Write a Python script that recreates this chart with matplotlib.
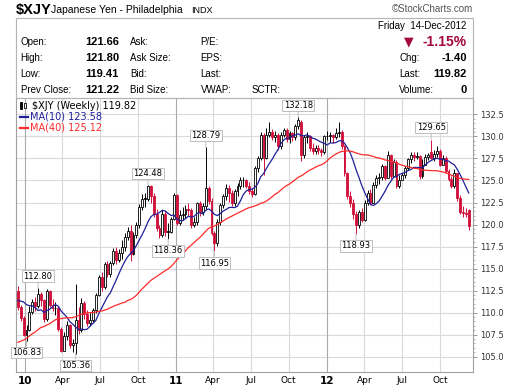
import matplotlib
matplotlib.use("Agg")
import matplotlib.pyplot as plt
from matplotlib.patches import Rectangle
import pandas as pd

W, H = 512, 389

# weekly closes before the first visible bar, only used to seed the moving averages
warmup_closes = [104.7, 102.1, 100.0, 99.7, 100.8, 103.0, 101.1, 101.7, 105.3, 105.5,
                 104.9, 101.4, 101.6, 103.8, 105.0, 104.2, 107.9, 106.3, 105.6, 105.2,
                 102.5, 105.4, 105.9, 106.8, 107.5, 110.3, 109.2, 111.5, 111.4, 111.4,
                 110.0, 108.6, 111.0, 111.2, 111.5, 112.5, 115.5, 110.6, 112.2]

# weekly bars, week of 14-Dec-2009 to week of 10-Dec-2012
opens = [112.5, 110.6, 109.4, 107.5, 108.0, 110.1, 111.2, 110.7, 112.1, 111.4,
         109.3, 112.5, 110.9, 110.5, 110.5, 108.1, 105.7, 107.3, 108.6, 106.3,
         106.5, 109.2, 108.0, 111.1, 109.8, 108.8, 109.2, 110.3, 112.0, 114.0,
         112.9, 115.5, 114.4, 115.6, 117.0, 116.0, 116.8, 117.4, 118.6, 119.3,
         116.6, 118.8, 120.0, 122.0, 122.9, 122.9, 124.4, 123.2, 121.2, 119.6,
         118.8, 121.2, 119.2, 119.2, 120.6, 123.3, 120.2, 121.1, 121.2, 121.8,
         121.7, 120.0, 120.3, 122.4, 121.4, 122.1, 124.1, 122.7, 119.0, 117.9,
         120.3, 122.2, 123.2, 124.1, 123.6, 122.4, 123.8, 124.4, 125.0, 125.0,
         124.4, 123.8, 123.5, 126.4, 127.6, 130.2, 127.6, 130.2, 130.5, 129.9,
         130.2, 128.9, 130.2, 130.7, 129.7, 130.4, 129.9, 131.2, 131.6, 127.9,
         129.9, 130.0, 128.7, 128.4, 128.7, 128.5, 128.2, 130.0, 130.0, 130.2,
         129.9, 130.4, 130.5, 128.9, 125.8, 123.2, 122.4, 121.2, 119.9, 121.4,
         120.5, 122.5, 123.6, 122.4, 124.5, 125.3, 125.4, 126.6, 125.3, 127.9,
         125.5, 127.1, 124.4, 125.0, 125.6, 126.4, 127.4, 127.9, 127.7, 127.8,
         125.5, 126.8, 127.7, 128.2, 127.6, 128.0, 128.4, 126.8, 127.6, 126.1,
         125.2, 124.4, 125.8, 123.0, 121.4, 121.3, 121.66]
highs = [113.0, 110.9, 109.6, 108.6, 110.8, 111.6, 111.8, 112.80, 112.3, 111.6,
         112.7, 112.6, 111.6, 111.2, 110.8, 108.4, 107.8, 109.0, 108.7, 107.0,
         113.3, 110.6, 111.7, 111.3, 110.3, 110.0, 110.5, 112.2, 114.3, 114.6,
         115.8, 115.9, 115.9, 117.3, 117.4, 117.2, 118.3, 119.0, 119.7, 119.9,
         119.1, 120.3, 122.3, 123.5, 123.6, 124.48, 124.5, 123.6, 121.8, 120.0,
         121.6, 121.5, 120.2, 120.9, 123.6, 123.5, 121.7, 122.0, 122.2, 122.4,
         121.9, 120.8, 122.6, 122.7, 122.5, 128.79, 124.4, 123.0, 119.3, 120.6,
         122.4, 123.5, 124.6, 124.5, 123.9, 124.0, 124.7, 125.4, 125.4, 125.2,
         124.8, 124.2, 126.7, 127.8, 130.5, 130.4, 131.0, 131.6, 130.9, 130.6,
         130.4, 130.5, 131.0, 131.0, 130.6, 130.5, 131.4, 132.18, 131.9, 130.2,
         130.5, 130.2, 129.2, 129.0, 129.0, 128.7, 130.2, 130.6, 130.5, 130.3,
         131.0, 131.6, 130.7, 129.0, 126.0, 123.8, 122.9, 121.5, 121.7, 121.9,
         122.8, 123.9, 124.0, 124.8, 125.6, 125.8, 126.9, 126.8, 128.4, 128.0,
         127.4, 127.3, 125.6, 125.9, 126.6, 127.6, 128.2, 128.2, 128.2, 127.9,
         127.4, 128.0, 128.1, 129.65, 128.5, 128.9, 128.6, 127.9, 127.8, 126.3,
         125.5, 126.3, 125.9, 123.4, 122.1, 121.9, 121.80]
lows = [110.3, 109.0, 107.3, 106.83, 107.9, 109.9, 110.2, 110.5, 110.8, 108.9,
        109.0, 110.6, 110.2, 109.7, 107.9, 105.5, 105.6, 106.9, 106.0, 105.5,
        105.36, 107.6, 107.8, 109.3, 108.5, 108.5, 108.9, 110.0, 111.9, 112.5,
        112.7, 114.0, 114.0, 115.4, 115.5, 115.7, 116.1, 117.0, 118.2, 115.9,
        116.5, 118.5, 119.6, 121.6, 122.0, 122.7, 122.5, 120.8, 119.3, 118.5,
        118.6, 118.7, 118.36, 119.0, 120.5, 119.9, 119.9, 120.5, 120.7, 121.0,
        119.6, 119.7, 120.0, 121.0, 121.1, 121.8, 122.3, 118.8, 116.95, 117.6,
        120.0, 121.9, 122.8, 122.6, 122.1, 122.1, 123.2, 124.0, 124.3, 124.1,
        123.5, 123.1, 123.3, 126.0, 127.3, 125.6, 127.4, 129.9, 129.6, 129.4,
        128.5, 128.6, 129.9, 129.4, 129.3, 129.5, 129.6, 130.9, 127.2, 127.6,
        129.3, 128.3, 128.0, 128.0, 128.0, 127.8, 128.0, 129.6, 129.4, 129.3,
        129.7, 129.9, 128.6, 125.5, 122.9, 122.0, 120.6, 118.93, 119.6, 120.3,
        120.4, 122.2, 122.2, 122.5, 124.1, 124.6, 125.0, 125.1, 125.4, 125.2,
        125.6, 124.2, 124.2, 125.0, 125.3, 126.2, 127.0, 127.2, 127.4, 125.2,
        125.3, 126.9, 127.3, 127.4, 127.2, 127.7, 126.6, 126.8, 125.9, 124.9,
        124.2, 124.1, 122.7, 121.2, 120.9, 120.8, 119.41]
closes = [110.6, 109.4, 107.5, 108.0, 110.1, 111.2, 110.7, 112.1, 111.4, 109.3,
          112.5, 110.9, 110.5, 110.5, 108.1, 105.7, 107.3, 108.6, 106.3, 106.5,
          109.2, 108.0, 111.1, 109.8, 108.8, 109.2, 110.3, 112.0, 114.0, 112.9,
          115.5, 114.4, 115.6, 117.0, 116.0, 116.8, 117.4, 118.6, 119.3, 116.6,
          118.8, 120.0, 122.0, 122.9, 122.9, 124.4, 123.2, 121.2, 119.6, 118.8,
          121.2, 119.2, 119.2, 120.6, 123.3, 120.2, 121.1, 121.2, 121.8, 121.7,
          120.0, 120.3, 122.4, 121.4, 122.1, 124.1, 122.7, 119.0, 117.9, 120.3,
          122.2, 123.2, 124.1, 123.6, 122.4, 123.8, 124.4, 125.0, 125.0, 124.4,
          123.8, 123.5, 126.4, 127.6, 130.2, 127.6, 130.2, 130.5, 129.9, 130.2,
          128.9, 130.2, 130.7, 129.7, 130.4, 129.9, 131.2, 131.9, 127.9, 129.9,
          130.0, 128.7, 128.4, 128.7, 128.5, 128.2, 130.0, 130.0, 130.2, 129.9,
          130.4, 130.5, 128.9, 125.8, 123.2, 122.4, 121.2, 119.9, 121.4, 120.5,
          122.5, 123.6, 122.4, 124.5, 125.3, 125.4, 126.6, 125.3, 127.9, 125.5,
          127.1, 124.4, 125.0, 125.6, 126.4, 127.4, 127.9, 127.7, 127.8, 125.5,
          126.8, 127.7, 127.9, 127.6, 128.0, 128.4, 126.8, 127.6, 126.1, 125.2,
          124.4, 125.8, 123.0, 121.4, 121.3, 121.22, 119.82]

dates = pd.date_range("2009-12-14", periods=len(closes), freq="7D")

# bars that carry a price callout
callout_weeks = [3, 7, 20, 45, 52, 65, 68, 97, 117, 143]
callout_sides = ["low", "high", "low", "high", "low", "high", "low", "high", "low", "high"]

tick_dates = pd.to_datetime(["2010-01-01", "2010-04-01", "2010-07-01", "2010-10-01",
                             "2011-01-01", "2011-04-01", "2011-07-01", "2011-10-01",
                             "2012-01-01", "2012-04-01", "2012-07-01", "2012-10-01"])
tick_labels = ["10", "Apr", "Jul", "Oct", "11", "Apr", "Jul", "Oct", "12", "Apr", "Jul", "Oct"]
y_ticks = [105.0, 107.5, 110.0, 112.5, 115.0, 117.5, 120.0, 122.5, 125.0, 127.5, 130.0, 132.5]

all_closes = pd.Series(warmup_closes + closes)
ma10 = all_closes.rolling(10).mean().iloc[len(warmup_closes):].to_numpy()
ma40 = all_closes.rolling(40).mean().iloc[len(warmup_closes):].to_numpy()

RED = "#d0103a"
DARKRED = "#a3093a"
BLUE = "#1f1f9a"
MARED = "#ff2a2a"
GRID = "#dadada"

fig = plt.figure(figsize=(W / 100, H / 100), dpi=100)
fig.patch.set_facecolor("white")


def ftext(x, y, s, **kw):
    kw.setdefault("va", "center")
    kw.setdefault("family", "Liberation Sans")
    fig.text(x / W, 1 - y / H, s, **kw)


# title line
ftext(16, 10, "$XJY", fontsize=10.5, weight="bold")
ftext(51, 10, "Japanese Yen - Philadelphia", fontsize=7.5)
ftext(191, 10.5, "INDX", fontsize=6.5)
ftext(473, 9.5, "\u00a9StockCharts.com", fontsize=7, color="#555555", ha="right")

# quote panel
fig.patches.append(Rectangle((16 / W, 1 - 97.5 / H), 457 / W, 79.5 / H,
                             transform=fig.transFigure, fill=False,
                             edgecolor="#b4b4b4", lw=0.8))
prev_close = closes[-2]
chg = closes[-1] - prev_close
pct = chg / prev_close * 100
row_y = [42.3, 58.3, 74.3, 90.0]
left_labels = ["Open:", "High:", "Low:", "Prev Close:"]
left_values = [opens[-1], highs[-1], lows[-1], prev_close]
mid_labels = ["Ask:", "Ask Size:", "Bid:", "Bid Size:"]
third_labels = ["P/E:", "EPS:", "Last:", "VWAP:"]
for y, lab, val, m, t in zip(row_y, left_labels, left_values, mid_labels, third_labels):
    ftext(20.7, y, lab, fontsize=7)
    ftext(119, y, f"{val:.2f}", fontsize=8, weight="bold", ha="right")
    ftext(130, y, m, fontsize=7)
    ftext(200.7, y, t, fontsize=7)
ftext(251.7, row_y[3], "SCTR:", fontsize=7)
ftext(466.7, 26, "Friday  14-Dec-2012", fontsize=7, ha="right")
ftext(409, row_y[0], "\u25bc", fontsize=9, color=DARKRED, ha="center", family="DejaVu Sans")
ftext(466.7, row_y[0], f"{pct:.2f}%", fontsize=10, weight="bold", color=DARKRED, ha="right")
ftext(399.3, row_y[1], "Chg:", fontsize=7)
ftext(466.7, row_y[1], f"{chg:.2f}", fontsize=8, weight="bold", ha="right")
ftext(399.3, row_y[2], "Last:", fontsize=7)
ftext(466.7, row_y[2], f"{closes[-1]:.2f}", fontsize=8, weight="bold", ha="right")
ftext(399.3, row_y[3], "Volume:", fontsize=7)
ftext(466.7, row_y[3], "0", fontsize=8, weight="bold", ha="right")

# price panel
ax = fig.add_axes([16 / W, 1 - 372 / H, (472.7 - 16) / W, (372 - 97.5) / H])
ax.set_xlim(pd.Timestamp("2009-12-09 12:00"), pd.Timestamp("2012-12-19 14:00"))
ax.set_ylim(103.26, 134.42)

for yv in y_ticks:
    ax.axhline(yv, color=GRID, lw=0.8, zorder=0)
for d, lab in zip(tick_dates, tick_labels):
    ax.axvline(d, color="#aaaaaa" if lab.isdigit() else GRID, lw=0.8, zorder=0)

prev = [warmup_closes[-1]] + closes[:-1]
for d, o, h, l, c, p in zip(dates, opens, highs, lows, closes, prev):
    col = "black" if c >= p else RED
    ax.vlines(d, l, h, color=col, lw=0.7, zorder=2)
    face = "white" if c > o else col
    ax.bar(d, max(abs(c - o), 0.07), bottom=min(o, c), width=4.6,
           color=face, edgecolor=col, linewidth=0.6, zorder=3)

ax.plot(dates, ma10, color=BLUE, lw=0.9, zorder=4)
ax.plot(dates, ma40, color=MARED, lw=0.9, zorder=4)

for wk, side in zip(callout_weeks, callout_sides):
    val = highs[wk] if side == "high" else lows[wk]
    off = 8.5 if side == "high" else -8.5
    ax.annotate(f"{val:.2f}", xy=(dates[wk], val), xytext=(0, off),
                textcoords="offset points", ha="center", va="center",
                fontsize=6, family="DejaVu Sans", zorder=6,
                bbox=dict(boxstyle="square,pad=0.15", fc="white", ec="#bdbdbd", lw=0.7),
                arrowprops=dict(arrowstyle="-", color="#bdbdbd", lw=0.7,
                                shrinkA=0, shrinkB=0))

# legend
ax.text(0.034, 0.970, f"$XJY (Weekly) {closes[-1]:.2f}", transform=ax.transAxes,
        fontsize=7, va="center", family="DejaVu Sans", zorder=7)
for k, (x0, y0, hh) in enumerate([(0.009, 0.958, 0.024), (0.017, 0.962, 0.018)]):
    ax.add_patch(Rectangle((x0, y0), 0.005, hh, transform=ax.transAxes,
                           facecolor="black" if k == 0 else "white",
                           edgecolor="black", lw=0.6, zorder=7))
ax.plot([0.008, 0.026], [0.930, 0.930], transform=ax.transAxes, color=BLUE, lw=1.6, zorder=7)
ax.text(0.030, 0.930, f"MA(10) {ma10[-1]:.2f}", transform=ax.transAxes, color=BLUE,
        fontsize=7, va="center", family="DejaVu Sans", zorder=7)
ax.plot([0.008, 0.026], [0.890, 0.890], transform=ax.transAxes, color=MARED, lw=1.6, zorder=7)
ax.text(0.030, 0.890, f"MA(40) {ma40[-1]:.2f}", transform=ax.transAxes, color=MARED,
        fontsize=7, va="center", family="DejaVu Sans", zorder=7)

# axes styling
ax.yaxis.tick_right()
ax.set_yticks(y_ticks)
ax.set_yticks([v + 0.5 * k for v in y_ticks[:-1] for k in range(1, 5)], minor=True)
ax.set_yticklabels([f"{v:.1f}" for v in y_ticks], fontsize=6, family="DejaVu Sans", color="#333333")
ax.tick_params(axis="y", which="major", length=3, width=0.6, color="#888888", pad=2)
ax.tick_params(axis="y", which="minor", length=1.5, width=0.5, color="#999999")
ax.set_xticks(tick_dates)
ax.set_xticklabels(tick_labels, fontsize=6.5, family="DejaVu Sans")
for lab in ax.get_xticklabels():
    if lab.get_text().isdigit():
        lab.set_fontweight("bold")
        lab.set_fontsize(7.5)
ax.tick_params(axis="x", length=0, pad=3)
for s in ax.spines.values():
    s.set_color("#a0a0a0")
    s.set_linewidth(0.8)

fig.savefig("out.png", dpi=100, facecolor="white")
